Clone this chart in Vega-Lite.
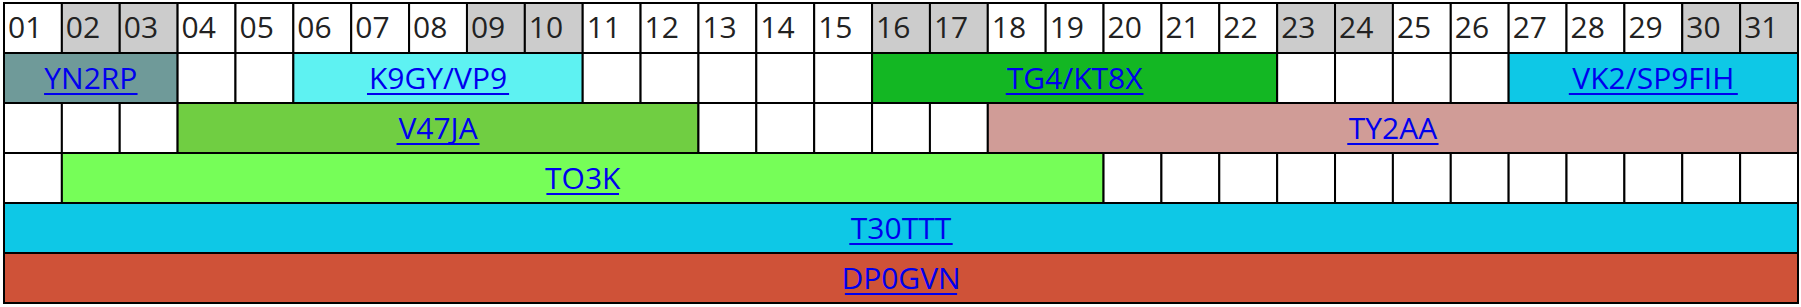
{
  "$schema": "https://vega.github.io/schema/vega-lite/v6.json",
  "width": 1794,
  "height": 300,
  "autosize": {"type": "none"},
  "padding": {"left": 4, "top": 3, "right": 3, "bottom": 4},
  "background": "white",
  "config": {"view": {"stroke": null}},
  "data": {"values": [
    {"row": 0, "start": 1, "end": 2, "label": "01", "cat": "weekday"},
    {"row": 0, "start": 2, "end": 3, "label": "02", "cat": "weekend"},
    {"row": 0, "start": 3, "end": 4, "label": "03", "cat": "weekend"},
    {"row": 0, "start": 4, "end": 5, "label": "04", "cat": "weekday"},
    {"row": 0, "start": 5, "end": 6, "label": "05", "cat": "weekday"},
    {"row": 0, "start": 6, "end": 7, "label": "06", "cat": "weekday"},
    {"row": 0, "start": 7, "end": 8, "label": "07", "cat": "weekday"},
    {"row": 0, "start": 8, "end": 9, "label": "08", "cat": "weekday"},
    {"row": 0, "start": 9, "end": 10, "label": "09", "cat": "weekend"},
    {"row": 0, "start": 10, "end": 11, "label": "10", "cat": "weekend"},
    {"row": 0, "start": 11, "end": 12, "label": "11", "cat": "weekday"},
    {"row": 0, "start": 12, "end": 13, "label": "12", "cat": "weekday"},
    {"row": 0, "start": 13, "end": 14, "label": "13", "cat": "weekday"},
    {"row": 0, "start": 14, "end": 15, "label": "14", "cat": "weekday"},
    {"row": 0, "start": 15, "end": 16, "label": "15", "cat": "weekday"},
    {"row": 0, "start": 16, "end": 17, "label": "16", "cat": "weekend"},
    {"row": 0, "start": 17, "end": 18, "label": "17", "cat": "weekend"},
    {"row": 0, "start": 18, "end": 19, "label": "18", "cat": "weekday"},
    {"row": 0, "start": 19, "end": 20, "label": "19", "cat": "weekday"},
    {"row": 0, "start": 20, "end": 21, "label": "20", "cat": "weekday"},
    {"row": 0, "start": 21, "end": 22, "label": "21", "cat": "weekday"},
    {"row": 0, "start": 22, "end": 23, "label": "22", "cat": "weekday"},
    {"row": 0, "start": 23, "end": 24, "label": "23", "cat": "weekend"},
    {"row": 0, "start": 24, "end": 25, "label": "24", "cat": "weekend"},
    {"row": 0, "start": 25, "end": 26, "label": "25", "cat": "weekday"},
    {"row": 0, "start": 26, "end": 27, "label": "26", "cat": "weekday"},
    {"row": 0, "start": 27, "end": 28, "label": "27", "cat": "weekday"},
    {"row": 0, "start": 28, "end": 29, "label": "28", "cat": "weekday"},
    {"row": 0, "start": 29, "end": 30, "label": "29", "cat": "weekday"},
    {"row": 0, "start": 30, "end": 31, "label": "30", "cat": "weekend"},
    {"row": 0, "start": 31, "end": 32, "label": "31", "cat": "weekend"},

    {"row": 1, "start": 1, "end": 4, "label": "YN2RP", "cat": "YN2RP"},
    {"row": 1, "start": 4, "end": 5, "label": "", "cat": "empty"},
    {"row": 1, "start": 5, "end": 6, "label": "", "cat": "empty"},
    {"row": 1, "start": 6, "end": 11, "label": "K9GY/VP9", "cat": "K9GY/VP9"},
    {"row": 1, "start": 11, "end": 12, "label": "", "cat": "empty"},
    {"row": 1, "start": 12, "end": 13, "label": "", "cat": "empty"},
    {"row": 1, "start": 13, "end": 14, "label": "", "cat": "empty"},
    {"row": 1, "start": 14, "end": 15, "label": "", "cat": "empty"},
    {"row": 1, "start": 15, "end": 16, "label": "", "cat": "empty"},
    {"row": 1, "start": 16, "end": 23, "label": "TG4/KT8X", "cat": "TG4/KT8X"},
    {"row": 1, "start": 23, "end": 24, "label": "", "cat": "empty"},
    {"row": 1, "start": 24, "end": 25, "label": "", "cat": "empty"},
    {"row": 1, "start": 25, "end": 26, "label": "", "cat": "empty"},
    {"row": 1, "start": 26, "end": 27, "label": "", "cat": "empty"},
    {"row": 1, "start": 27, "end": 32, "label": "VK2/SP9FIH", "cat": "VK2/SP9FIH"},

    {"row": 2, "start": 1, "end": 2, "label": "", "cat": "empty"},
    {"row": 2, "start": 2, "end": 3, "label": "", "cat": "empty"},
    {"row": 2, "start": 3, "end": 4, "label": "", "cat": "empty"},
    {"row": 2, "start": 4, "end": 13, "label": "V47JA", "cat": "V47JA"},
    {"row": 2, "start": 13, "end": 14, "label": "", "cat": "empty"},
    {"row": 2, "start": 14, "end": 15, "label": "", "cat": "empty"},
    {"row": 2, "start": 15, "end": 16, "label": "", "cat": "empty"},
    {"row": 2, "start": 16, "end": 17, "label": "", "cat": "empty"},
    {"row": 2, "start": 17, "end": 18, "label": "", "cat": "empty"},
    {"row": 2, "start": 18, "end": 32, "label": "TY2AA", "cat": "TY2AA"},

    {"row": 3, "start": 1, "end": 2, "label": "", "cat": "empty"},
    {"row": 3, "start": 2, "end": 20, "label": "TO3K", "cat": "TO3K"},
    {"row": 3, "start": 20, "end": 21, "label": "", "cat": "empty"},
    {"row": 3, "start": 21, "end": 22, "label": "", "cat": "empty"},
    {"row": 3, "start": 22, "end": 23, "label": "", "cat": "empty"},
    {"row": 3, "start": 23, "end": 24, "label": "", "cat": "empty"},
    {"row": 3, "start": 24, "end": 25, "label": "", "cat": "empty"},
    {"row": 3, "start": 25, "end": 26, "label": "", "cat": "empty"},
    {"row": 3, "start": 26, "end": 27, "label": "", "cat": "empty"},
    {"row": 3, "start": 27, "end": 28, "label": "", "cat": "empty"},
    {"row": 3, "start": 28, "end": 29, "label": "", "cat": "empty"},
    {"row": 3, "start": 29, "end": 30, "label": "", "cat": "empty"},
    {"row": 3, "start": 30, "end": 31, "label": "", "cat": "empty"},
    {"row": 3, "start": 31, "end": 32, "label": "", "cat": "empty"},

    {"row": 4, "start": 1, "end": 32, "label": "T30TTT", "cat": "T30TTT"},
    {"row": 5, "start": 1, "end": 32, "label": "DP0GVN", "cat": "DP0GVN"}
  ]},
  "encoding": {
    "y": {"field": "row", "type": "ordinal", "axis": null,
          "scale": {"domain": [0, 1, 2, 3, 4, 5], "paddingInner": 0, "paddingOuter": 0}}
  },
  "layer": [
    {
      "mark": {"type": "rect", "stroke": "black", "strokeWidth": 2},
      "encoding": {
        "x": {"field": "start", "type": "quantitative", "axis": null,
              "scale": {"domain": [1, 32], "nice": false, "zero": false}},
        "x2": {"field": "end"},
        "fill": {"field": "cat", "type": "nominal", "legend": null,
                 "scale": {
                   "domain": ["weekday", "weekend", "empty", "YN2RP", "K9GY/VP9", "TG4/KT8X", "VK2/SP9FIH", "V47JA", "TY2AA", "TO3K", "T30TTT", "DP0GVN"],
                   "range": ["#ffffff", "#cccccc", "#ffffff", "#6f9a99", "#5ef2f2", "#13b723", "#0ec8e6", "#70ce42", "#d09c97", "#76fe58", "#0ec8e6", "#cf5238"]
                 }}
      }
    },
    {
      "transform": [{"filter": "datum.row == 0"}],
      "mark": {"type": "text", "align": "left", "baseline": "alphabetic", "dx": 4, "dy": 10,
               "font": "Open Sans", "fontSize": 30, "color": "#222222"},
      "encoding": {
        "x": {"field": "start", "type": "quantitative"},
        "text": {"field": "label"}
      }
    },
    {
      "transform": [
        {"filter": "datum.row > 0 && datum.label != ''"},
        {"calculate": "(datum.start + datum.end) / 2", "as": "mid"}
      ],
      "mark": {"type": "text", "align": "center", "baseline": "alphabetic", "dy": 11,
               "font": "Open Sans", "fontSize": 30, "color": "#0000ee"},
      "encoding": {
        "x": {"field": "mid", "type": "quantitative"},
        "text": {"field": "label"}
      }
    },
    {
      "transform": [
        {"filter": "datum.row > 0 && datum.label != ''"},
        {"calculate": "(datum.start + datum.end) / 2", "as": "mid"},
        {"calculate": "(length(datum.label) * 18.7 - 10.5 * length(replace(datum.label, regexp('[^IJ1]', 'g'), '')) - 7.5 * length(replace(datum.label, regexp('[^/]', 'g'), '')) - 2.2 * length(replace(datum.label, regexp('[^T]', 'g'), ''))) / 2 / 57.87", "as": "hw"},
        {"calculate": "datum.mid - datum.hw", "as": "ux1"},
        {"calculate": "datum.mid + datum.hw", "as": "ux2"}
      ],
      "mark": {"type": "rule", "color": "#0000ee", "strokeWidth": 2, "yOffset": 16},
      "encoding": {
        "x": {"field": "ux1", "type": "quantitative"},
        "x2": {"field": "ux2"}
      }
    }
  ]
}
